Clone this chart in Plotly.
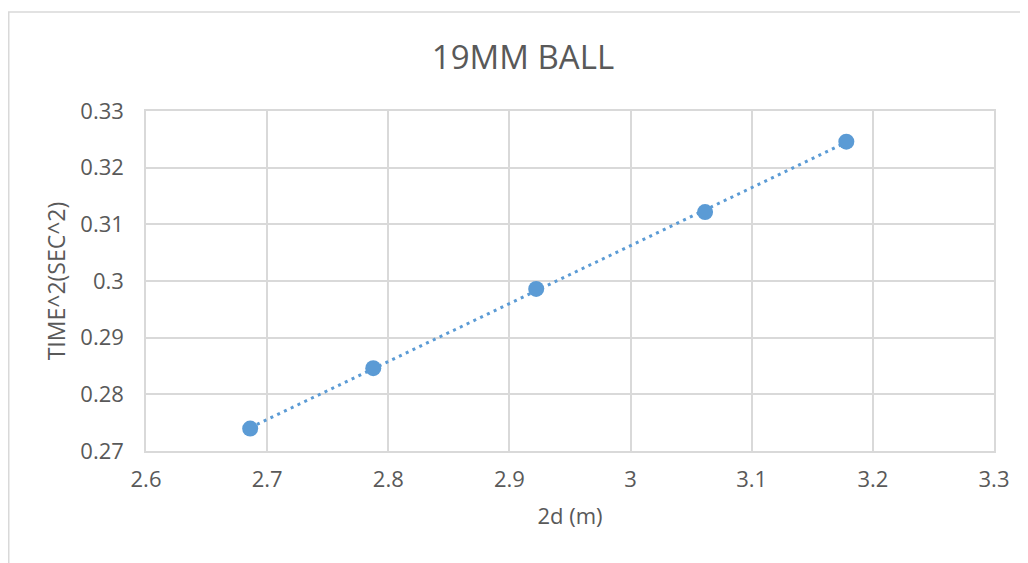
import numpy as np
import plotly.graph_objects as go

# Data
two_d = [2.686, 2.7876, 2.9221, 3.0615, 3.1781]
time_sq = [0.27396, 0.28461, 0.29861, 0.31216, 0.32458]

title_text = "19MM BALL"
x_title = "2d (m)"
y_title = "TIME^2(SEC^2)"
x_ticks = [2.6, 2.7, 2.8, 2.9, 3.0, 3.1, 3.2, 3.3]
x_tick_text = ["2.6", "2.7", "2.8", "2.9", "3", "3.1", "3.2", "3.3"]
y_ticks = [0.27, 0.28, 0.29, 0.30, 0.31, 0.32, 0.33]
y_tick_text = ["0.27", "0.28", "0.29", "0.3", "0.31", "0.32", "0.33"]

OFF = 8  # page body margin
W, H = 1028 - OFF, 563 - OFF
L, R, T, B = 146 - OFF, 994 - OFF, 111 - OFF, 451 - OFF

# Linear trendline over the data range
slope, intercept = np.polyfit(two_d, time_sq, 1)
tx = np.array([min(two_d), max(two_d)])
ty = slope * tx + intercept

FONT = "Open Sans"
TXT = "#595959"
GRID = "#d9d9d9"
BLUE = "#5b9bd5"

fig = go.Figure()
fig.add_trace(go.Scatter(
    x=tx, y=ty, mode="lines",
    line=dict(color=BLUE, width=3, dash="3px,4.5px"),
    hoverinfo="skip", showlegend=False))
fig.add_trace(go.Scatter(
    x=two_d, y=time_sq, mode="markers",
    marker=dict(color=BLUE, size=16, line=dict(width=0)),
    showlegend=False))

fig.update_layout(
    width=W, height=H,
    margin=dict(l=L, r=W - R, t=T, b=H - B, pad=0),
    paper_bgcolor="white", plot_bgcolor="white",
    font=dict(family=FONT, color=TXT, size=22),
    title=dict(text=title_text, x=(523 - OFF) / W, xref="container", xanchor="center",
               y=1 - (57 - OFF) / H, yref="container", yanchor="middle",
               font=dict(family=FONT, size=33, color=TXT)),
    xaxis=dict(range=[2.6, 3.3], tickvals=x_ticks, ticktext=x_tick_text,
               showgrid=True, gridcolor=GRID, gridwidth=1.5,
               showline=True, linecolor=GRID, linewidth=1.5, mirror=True,
               zeroline=False, ticks="outside", ticklen=8,
               tickcolor="rgba(0,0,0,0)",
               tickfont=dict(family=FONT, size=22, color=TXT),
               title=dict(text=x_title, standoff=16,
                          font=dict(family=FONT, size=22, color=TXT)),
               automargin=False),
    yaxis=dict(range=[0.27, 0.33], tickvals=y_ticks, ticktext=y_tick_text,
               showgrid=True, gridcolor=GRID, gridwidth=1.5,
               showline=True, linecolor=GRID, linewidth=1.5, mirror=True,
               zeroline=False, ticks="outside", ticklen=16,
               tickcolor="rgba(0,0,0,0)",
               tickfont=dict(family=FONT, size=22, color=TXT),
               title=dict(text=y_title, standoff=8,
                          font=dict(family=FONT, size=23, color=TXT)),
               automargin=False),
    shapes=[dict(type="rect", xref="paper", yref="paper",
                 x0=(0.75 - L) / (R - L), x1=(W + 20 - L) / (R - L),
                 y0=(B - (H + 20)) / (B - T), y1=(B - (12 - OFF)) / (B - T),
                 line=dict(color=GRID, width=1.5), fillcolor="rgba(0,0,0,0)",
                 layer="below")],
)

fig.write_html("out.html")
